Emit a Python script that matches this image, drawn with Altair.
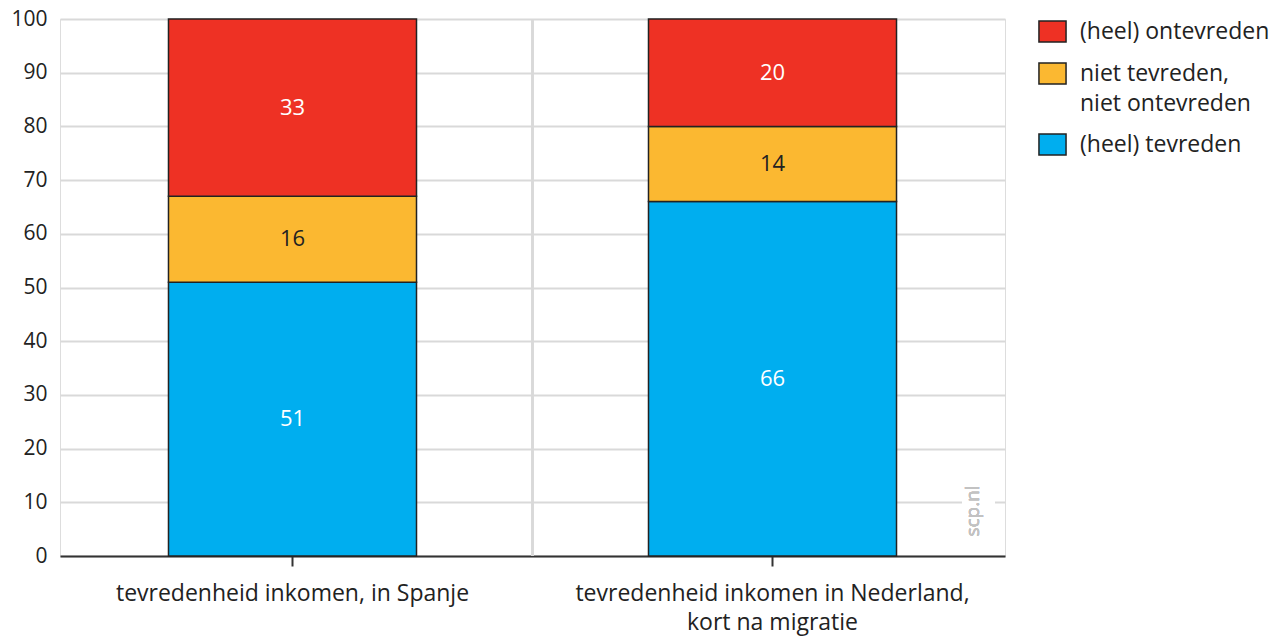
import altair as alt
import pandas as pd

categories = ["tevredenheid inkomen, in Spanje", "tevredenheid inkomen in Nederland, kort na migratie"]
groups = ["(heel) tevreden", "niet tevreden, niet ontevreden", "(heel) ontevreden"]
spanje = [51, 16, 33]
nederland = [66, 14, 20]
legend_order = ["(heel) ontevreden", "niet tevreden, niet ontevreden", "(heel) tevreden"]
colors = ["#EE3124", "#FBB831", "#00AEEF"]
y_ticks = [0, 10, 20, 30, 40, 50, 60, 70, 80, 90, 100]

rows = []
for cat, vals in zip(categories, [spanje, nederland]):
    for k, (g, v) in enumerate(zip(groups, vals)):
        rows.append({"cat": cat, "grp": g, "value": v, "k": k})
df = pd.DataFrame(rows)

W, H = 945, 537
FONT = "Open Sans"

x_enc = alt.X("cat:N", sort=categories, title=None,
              scale=alt.Scale(paddingInner=0.4833, paddingOuter=0.226),
              axis=alt.Axis(labelAngle=0, labelFontSize=23, labelColor="#222", labelFont=FONT,
                            labelPadding=16, labelLineHeight=29, labelLimit=600,
                            tickSize=10, tickColor="#333", tickWidth=2,
                            domainColor="#333", domainWidth=2, grid=False,
                            labelExpr="datum.label == 'tevredenheid inkomen in Nederland, kort na migratie' ? ['tevredenheid inkomen in Nederland,', 'kort na migratie'] : datum.label"))

base = alt.Chart(df).transform_stack(
    stack="value", as_=["y0", "y1"], groupby=["cat"], sort=[alt.SortField("k")]
).transform_calculate(mid="(datum.y0 + datum.y1) / 2")

bars = base.mark_bar(stroke="#222", strokeWidth=1.5).encode(
    x=x_enc,
    y=alt.Y("y0:Q", title=None, scale=alt.Scale(domain=[0, 100], nice=False),
            axis=alt.Axis(values=y_ticks, labelFontSize=21, labelColor="#222", labelFont=FONT,
                          labelPadding=13, ticks=False, domain=False,
                          gridColor="#d9d9d9", gridWidth=2)),
    y2="y1:Q",
    color=alt.Color("grp:N", scale=alt.Scale(domain=legend_order, range=colors),
                    legend=alt.Legend(title=None, orient="none", legendX=981, legendY=1,
                                      symbolType="M-1.29,-1H1.29V1H-1.29Z", symbolSize=441,
                                      symbolStrokeColor="#222", symbolStrokeWidth=1.5,
                                      symbolOpacity=1,
                                      labelFontSize=23, labelFont=FONT, labelColor="#222",
                                      labelLimit=300, labelOffset=16, rowPadding=15,
                                      labelExpr="datum.label == 'niet tevreden, niet ontevreden' ? ['niet tevreden,', 'niet ontevreden'] : datum.label")),
)

labels = base.mark_text(fontSize=22, font=FONT).encode(
    x=alt.X("cat:N", sort=categories),
    y=alt.Y("mid:Q"),
    text=alt.Text("value:Q"),
    color=alt.condition(alt.datum.k == 1, alt.value("#222"), alt.value("white")),
)

mid_rule = alt.Chart(df).mark_rule(color="#d9d9d9", strokeWidth=2).encode(
    x=alt.value(W / 2), y=alt.value(0), y2=alt.value(H)
)

wm_bg = alt.Chart(df).mark_rect(color="white").encode(
    x=alt.value(902), x2=alt.value(935), y=alt.value(462), y2=alt.value(522)
)
wm = alt.Chart(df).mark_text(text="scp.nl", angle=270, fontSize=19, font=FONT,
                             fontWeight="normal", color="#c2c2c2").encode(
    x=alt.value(913), y=alt.value(492)
)

chart = alt.layer(mid_rule, wm_bg, wm, bars, labels).resolve_scale(color="independent").properties(
    width=W, height=H,
    autosize=alt.AutoSizeParams(type="none"),
    padding={"left": 52, "top": 11, "right": 270, "bottom": 82},
).configure_view(stroke="#d9d9d9", strokeWidth=2).configure_legend(
    labelFont=FONT
).configure(style={"guide-label": {"lineHeight": 30}})

chart.save("out.html", embed_options={"renderer": "svg", "actions": False})
